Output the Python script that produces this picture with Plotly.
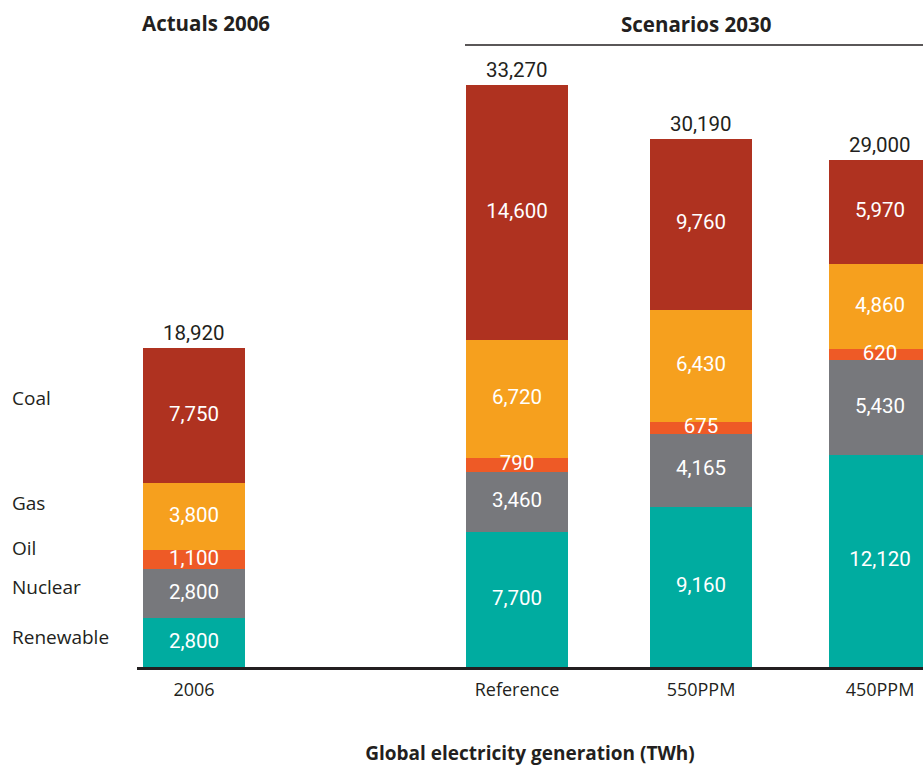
import plotly.graph_objects as go

categories = ["2006", "Reference", "550PPM", "450PPM"]
renewable = [2800, 7700, 9160, 12120]
nuclear = [2800, 3460, 4165, 5430]
oil = [1100, 790, 675, 620]
gas = [3800, 6720, 6430, 4860]
coal = [7750, 14600, 9760, 5970]
totals = [18920, 33270, 30190, 29000]
series_names = ["Renewable", "Nuclear", "Oil", "Gas", "Coal"]

colors = {
    "Renewable": "#00ACA0",
    "Nuclear": "#77787C",
    "Oil": "#EE5A26",
    "Gas": "#F6A01E",
    "Coal": "#AF3220",
}

# layout positions (pixels within plot area)
x_pos = [57, 380, 564, 743]
bar_w = 102
PLOT_L, PLOT_W, BASE, PLOT_H = 137, 786, 667, 582

series = [renewable, nuclear, oil, gas, coal]

fig = go.Figure()
for name, vals in zip(series_names, series):
    fig.add_trace(go.Bar(
        x=x_pos, y=vals, name=name, width=bar_w,
        marker=dict(color=colors[name], line=dict(width=0)),
        hoverinfo="skip",
    ))

# segment value labels, drawn on top of all bars
lab_x, lab_y, lab_t = [], [], []
for i in range(len(categories)):
    base = 0
    for vals in series:
        lab_x.append(x_pos[i])
        lab_y.append(base + vals[i] / 2)
        lab_t.append(f"{vals[i]:,}")
        base += vals[i]
fig.add_trace(go.Scatter(
    x=lab_x, y=lab_y, text=lab_t, mode="text", textposition="middle center",
    textfont=dict(family="Roboto", size=20.5, color="white"),
    hoverinfo="skip", cliponaxis=False,
))

stack_tops = [sum(s[i] for s in series) for i in range(len(categories))]
for xp, t, top in zip(x_pos, totals, stack_tops):
    fig.add_annotation(x=xp, y=top, xref="x", yref="y", text=f"{t:,}",
                       showarrow=False, yanchor="bottom", xanchor="center", yshift=1,
                       font=dict(family="Roboto", size=20.5, color="#231F20"))

# left legend labels
label_y_px = {"Coal": 398, "Gas": 503, "Oil": 548, "Nuclear": 587, "Renewable": 637}
for name in series_names:
    fig.add_annotation(x=0, xref="paper", xshift=10 - PLOT_L,
                       y=(BASE - label_y_px[name]) / PLOT_H, yref="paper",
                       text=name, showarrow=False, xanchor="left", yanchor="middle",
                       font=dict(family="Open Sans", size=19, color="#231F20"))

# headers
fig.add_annotation(x=(206 - PLOT_L) / PLOT_W, y=(BASE - 23) / PLOT_H, xref="paper", yref="paper",
                   text="Actuals 2006", showarrow=False,
                   xanchor="center", yanchor="middle",
                   font=dict(family="Open Sans", size=20.5, color="#231F20", weight=700))
fig.add_annotation(x=(696 - PLOT_L) / PLOT_W, y=(BASE - 24) / PLOT_H, xref="paper", yref="paper",
                   text="Scenarios 2030", showarrow=False,
                   xanchor="center", yanchor="middle",
                   font=dict(family="Open Sans", size=20.5, color="#231F20", weight=700))
fig.add_shape(type="line", xref="paper", yref="paper",
              x0=(465 - PLOT_L) / PLOT_W, x1=1,
              y0=(BASE - 45) / PLOT_H, y1=(BASE - 45) / PLOT_H,
              line=dict(color="#231F20", width=1.5))

fig.update_layout(
    width=923, height=767,
    margin=dict(l=PLOT_L, r=0, t=85, b=100),
    barmode="stack",
    showlegend=False,
    plot_bgcolor="white", paper_bgcolor="white",
    xaxis=dict(range=[0, PLOT_W], tickvals=x_pos, ticktext=categories,
               showgrid=False, zeroline=False, showline=True,
               linecolor="#231F20", linewidth=3, ticks="",
               ticklabelstandoff=4,
               tickfont=dict(family="Open Sans", size=18, color="#231F20"),
               title=dict(text="<b>Global electricity generation (TWh)</b>",
                          font=dict(family="Open Sans", size=19, color="#231F20"),
                          standoff=48)),
    yaxis=dict(range=[0, 33270], visible=False, showgrid=False, zeroline=False),
)

fig.write_html("out.html")
